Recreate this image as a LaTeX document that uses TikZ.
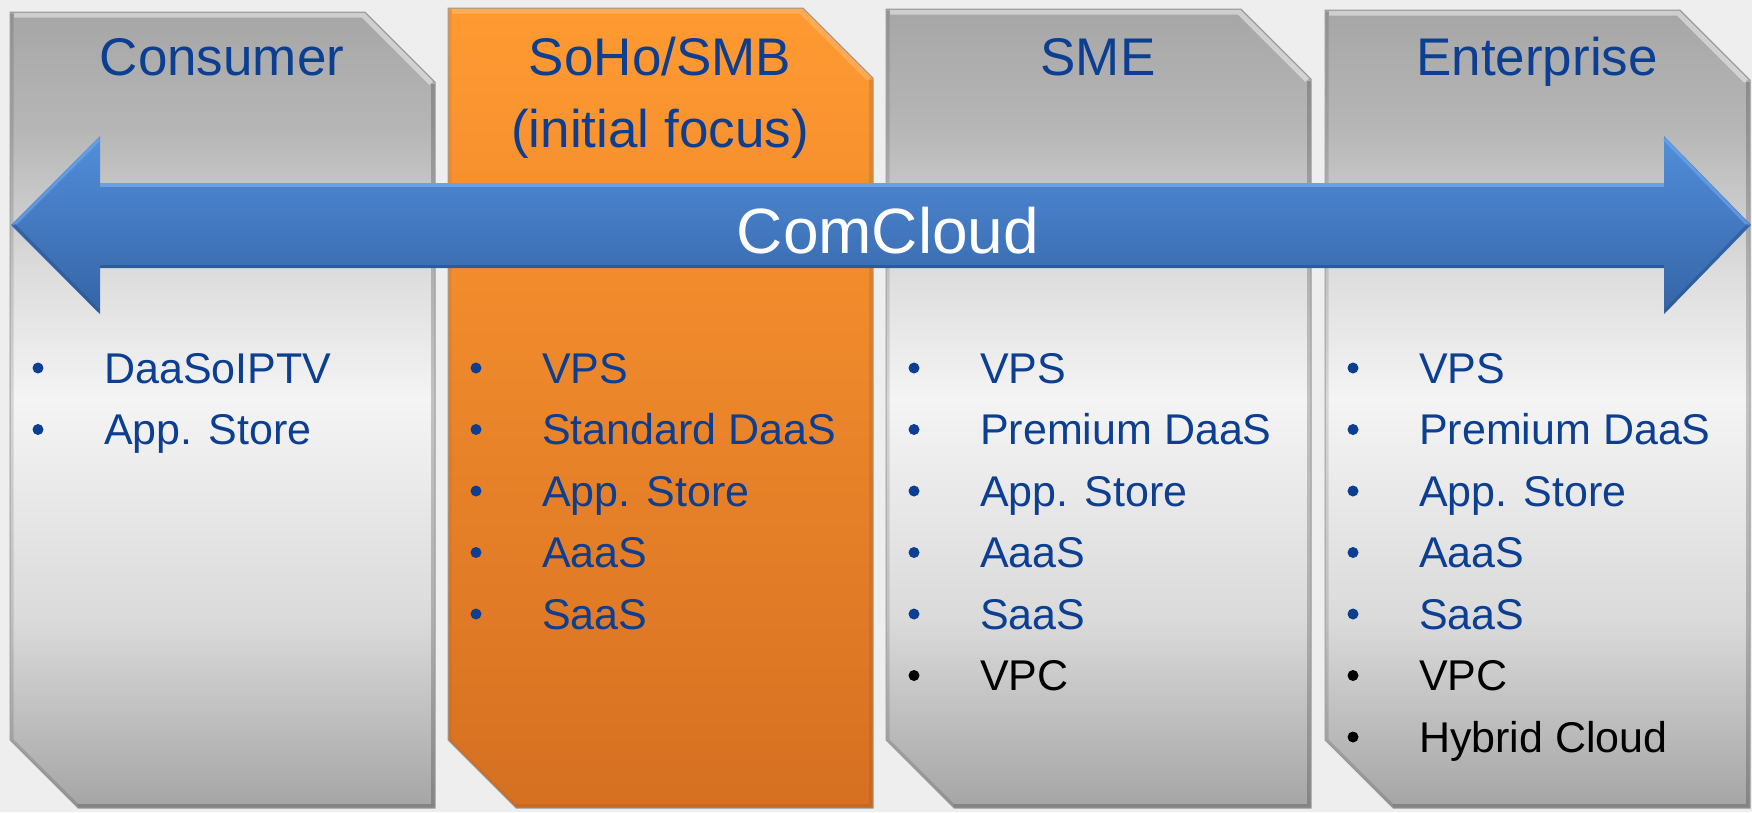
\documentclass[tikz,border=0pt]{standalone}
\usepackage{fontspec}
\setmainfont{Liberation Sans}
\definecolor{bgc}{RGB}{238,238,238}
\definecolor{tblue}{RGB}{12,62,145}
\definecolor{gA}{RGB}{165,165,165}
\definecolor{gB}{RGB}{218,218,218}
\definecolor{gC}{RGB}{244,244,244}
\definecolor{gD}{RGB}{222,222,222}
\definecolor{gE}{RGB}{182,182,182}
\definecolor{gF}{RGB}{166,166,166}
\pgfdeclareverticalshading{colgray}{100bp}{color(0bp)=(gA); color(25bp)=(gA); color(36.8bp)=(gB); color(50.6bp)=(gC); color(58.2bp)=(gD); color(67.6bp)=(gE); color(75bp)=(gF); color(100bp)=(gF)}
\definecolor{orT}{RGB}{255,154,50}
\definecolor{orB}{RGB}{214,112,34}
\pgfdeclareverticalshading{colorange}{100bp}{color(0bp)=(orB); color(25bp)=(orB); color(75bp)=(orT); color(100bp)=(orT)}
\definecolor{arT}{RGB}{82,142,218}
\definecolor{arB}{RGB}{52,100,166}
\definecolor{arHi}{RGB}{112,170,236}
\definecolor{arLo}{RGB}{42,86,146}
\tikzset{
  colbox/.style={shading=#1},
  coledge/.style={draw=black!40, line width=1pt},
  hdr/.style={anchor=base, inner sep=0pt, text=tblue, font=\fontsize{53}{60}\selectfont},
  itemtext/.style={anchor=base west, inner sep=0pt, font=\fontsize{43}{50}\selectfont},
  bulletdot/.style={circle, inner sep=0pt, minimum size=11pt},
  arrowfill/.style={top color=arT, bottom color=arB},
  cctext/.style={anchor=base, inner sep=0pt, text=white, font=\fontsize{64}{70}\selectfont}
}
\begin{document}
\begin{tikzpicture}[x=1pt,y=-1pt]
\useasboundingbox (0,0) rectangle (1752,812);
\fill[bgc] (0,0) rectangle (1752,812);
\clip (0,0) rectangle (1752,812);
% columns
\foreach \L/\T/\sh/\hi/\lo in {10/12/colgray/white/black, 448/8/colorange/orT!60!white/orB!70!black, 886/9/colgray/white/black, 1325/10/colgray/white/black}{
  \path[colbox=\sh] (\L,\T) -- ({\L+355},\T) -- ({\L+425},{\T+70}) -- ({\L+425},808) -- ({\L+68},808) -- (\L,740) -- cycle;
  \draw[\hi, opacity=0.45, line width=5pt] ({\L+4},{\T+3}) -- ({\L+353},{\T+3}) -- ({\L+421},{\T+71});
  \draw[\lo, opacity=0.2, line width=4pt] ({\L+423},{\T+72}) -- ({\L+423},806) -- ({\L+68},806);
  \draw[\lo, opacity=0.12, line width=3pt] ({\L+2},{\T+2}) -- ({\L+2},740) -- ({\L+68},806);
  \draw[coledge] (\L,\T) -- ({\L+355},\T) -- ({\L+425},{\T+70}) -- ({\L+425},808) -- ({\L+68},808) -- (\L,740) -- cycle;
}
% headers
\node[hdr] (h1) at (222,75) {Consumer};
\node[hdr] (h2) at (660,75) {SoHo/SMB};
\node[hdr] (h2b) at (660,147) {(initial focus)};
\node[hdr] (h3) at (1098,75) {SME};
\node[hdr] (h4) at (1537,75) {Enterprise};
% arrow
\path[arrowfill] (11,225) -- (100,136) -- (100,183) -- (1664,183) -- (1664,136) -- (1751,225) -- (1664,314) -- (1664,268) -- (100,268) -- (100,314) -- cycle;
\draw[arHi, line width=4pt, opacity=0.8] (100,185) -- (1664,185);
\draw[arHi, line width=3pt, opacity=0.6] (14,225) -- (100,139);
\draw[arHi, line width=3pt, opacity=0.6] (1664,139) -- (1748,225);
\draw[arLo, line width=3pt, opacity=0.8] (100,266.5) -- (1664,266.5);
\draw[arLo, line width=3pt, opacity=0.6] (14,225) -- (99,311);
\draw[arLo, line width=3pt, opacity=0.6] (1665,311) -- (1748,225);
\node[cctext] (cc) at (888,253) {ComCloud};
% items
\foreach \i/\t/\c in {1/DaaSoIPTV/tblue, 2/App. Store/tblue}{
  \node[bulletdot, fill=\c] (c1b\i) at (38,{383+61.5*(\i-1)-15}) {};
  \node[itemtext, text=\c] (c1t\i) at (104,{383+61.5*(\i-1)}) {\t};
}
\foreach \i/\t/\c in {1/VPS/tblue, 2/Standard DaaS/tblue, 3/App. Store/tblue, 4/AaaS/tblue, 5/SaaS/tblue}{
  \node[bulletdot, fill=\c] (c2b\i) at (476,{383+61.5*(\i-1)-15}) {};
  \node[itemtext, text=\c] (c2t\i) at (542,{383+61.5*(\i-1)}) {\t};
}
\foreach \i/\t/\c in {1/VPS/tblue, 2/Premium DaaS/tblue, 3/App. Store/tblue, 4/AaaS/tblue, 5/SaaS/tblue, 6/VPC/black}{
  \node[bulletdot, fill=\c] (c3b\i) at (914,{383+61.5*(\i-1)-15}) {};
  \node[itemtext, text=\c] (c3t\i) at (980,{383+61.5*(\i-1)}) {\t};
}
\foreach \i/\t/\c in {1/VPS/tblue, 2/Premium DaaS/tblue, 3/App. Store/tblue, 4/AaaS/tblue, 5/SaaS/tblue, 6/VPC/black, 7/Hybrid Cloud/black}{
  \node[bulletdot, fill=\c] (c4b\i) at (1353,{383+61.5*(\i-1)-15}) {};
  \node[itemtext, text=\c] (c4t\i) at (1419,{383+61.5*(\i-1)}) {\t};
}
\end{tikzpicture}
\end{document}
